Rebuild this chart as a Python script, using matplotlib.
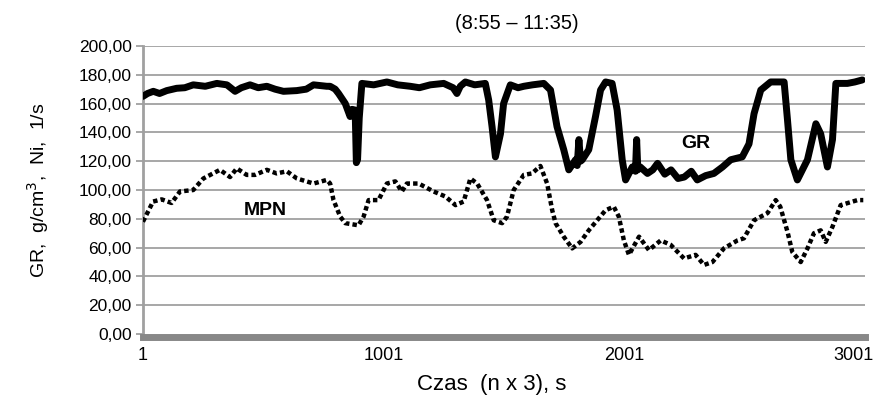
import matplotlib
matplotlib.use("Agg")
import matplotlib.pyplot as plt
from matplotlib.ticker import FuncFormatter

plt.rcParams['font.family'] = ['Liberation Sans', 'DejaVu Sans']

# GR curve (sample index, value)
gr_x = [1, 20, 44, 70, 100, 141, 175, 210, 260, 308, 350, 384, 410, 446, 480, 516,
        550, 585, 640, 680, 710, 765, 779, 800, 814, 842, 862, 870, 883, 888, 893,
        900, 911, 960, 1015, 1060, 1112, 1150, 1195, 1251, 1290, 1306, 1320, 1341,
        1380, 1424, 1438, 1452, 1466, 1487, 1500, 1528, 1560, 1584, 1620, 1667,
        1695, 1722, 1750, 1771, 1799, 1806, 1813, 1820, 1827, 1854, 1882, 1903,
        1924, 1951, 1972, 1993, 2007, 2035, 2048, 2053, 2058, 2068, 2098, 2120,
        2140, 2170, 2196, 2225, 2251, 2280, 2305, 2340, 2374, 2410, 2444, 2492,
        2520, 2541, 2569, 2610, 2666, 2680, 2694, 2721, 2763, 2798, 2818, 2846,
        2867, 2881, 2929, 2960, 2991]
gr_y = [165, 167, 168.5, 167, 169, 170.6, 171, 173, 172, 174, 173, 168.5, 171, 173,
        171, 172, 170, 168.5, 169, 170, 173, 172, 172, 170, 167, 160, 151, 156,
        155.5, 119, 121, 150, 174, 173, 175, 173, 172, 171, 173, 174, 171, 167,
        172, 175, 173, 174, 162.5, 144, 123, 139, 160, 173, 171, 172, 173, 174,
        169.4, 144, 128, 114, 121, 117, 135, 120, 121, 128, 151, 169.4, 175, 174,
        155.5, 121, 107, 116, 113, 135, 114, 116, 111.5, 114, 118.5, 111, 114, 108,
        109, 113, 107, 110, 111.5, 116, 121, 123, 132, 153, 169.4, 175, 175, 148.6,
        121, 107, 121, 146, 139, 116, 135, 174, 174, 175, 176.4]

# MPN curve (sample index, value)
mpn_x = [1, 43, 79, 120, 155, 210, 252, 321, 363, 391, 432, 467, 516, 557, 599,
         641, 710, 765, 779, 793, 821, 842, 897, 918, 939, 980, 1015, 1050, 1077,
         1098, 1147, 1209, 1258, 1300, 1334, 1362, 1390, 1431, 1459, 1494, 1514,
         1542, 1584, 1618, 1653, 1681, 1702, 1716, 1750, 1785, 1820, 1854, 1889,
         1924, 1958, 1979, 2000, 2021, 2063, 2104, 2153, 2194, 2250, 2298, 2333,
         2368, 2416, 2472, 2499, 2541, 2597, 2631, 2650, 2680, 2700, 2735, 2763,
         2790, 2818, 2839, 2867, 2901, 2971, 2995]
mpn_y = [78, 92, 93.5, 91, 99, 100, 108, 114, 109, 115, 110.5, 110.5, 114, 111.5,
         113, 108, 104.5, 107, 104.5, 93, 81.5, 77, 75.5, 81.5, 93, 93, 104.5, 106,
         99, 104.5, 104.5, 99, 95.5, 89.5, 92, 108, 104.5, 93, 79, 77, 81.5, 100,
         110.5, 111.5, 116.7, 104.5, 86, 77, 67.6, 59.5, 64, 72, 79, 86, 88.4, 81.5,
         65, 55, 67.6, 58.3, 65, 62, 52.5, 55, 48, 50, 59.5, 65, 66.5, 79, 84, 93,
         88.4, 71, 57, 50, 59.5, 70, 72, 64, 74.5, 89.5, 93, 93]

x_ticks = [1, 1001, 2001, 3001]
x_labels = ["1", "1001", "2001", "3001"]
y_ticks = [0, 20, 40, 60, 80, 100, 120, 140, 160, 180, 200]

fig = plt.figure(figsize=(8.77, 4.03), dpi=100)
ax = fig.add_axes([0.163, 0.171, 0.823, 0.715])

grid_c = "#a0a0a0"
for yv in y_ticks[1:]:
    ax.axhline(yv, color=grid_c, lw=1.3, zorder=0)

ax.plot(gr_x, gr_y, color="black", lw=5, solid_joinstyle="round",
        solid_capstyle="round", zorder=3)
ax.plot(mpn_x, mpn_y, color="black", lw=3.2, linestyle=(0, (1.0, 0.7)), zorder=3)

ax.text(2298, 132.5, "GR", fontsize=14, fontweight="bold", ha="center", va="center")
ax.text(509, 86, "MPN", fontsize=14, fontweight="bold", ha="center", va="center")

ax.set_xlim(1, 3001)
ax.set_ylim(0, 200)
ax.set_yticks(y_ticks)
ax.yaxis.set_major_formatter(FuncFormatter(lambda v, p: f"{v:.2f}".replace(".", ",")))
ax.tick_params(axis="y", length=5, width=1.3, color=grid_c, labelsize=12.5, pad=3)

# x tick labels drawn by hand so the last one stays inside the figure
ax.set_xticks([])
for xv, lab in zip(x_ticks, x_labels):
    dx = -8 if lab == "3001" else 0
    ax.annotate(lab, xy=(xv, 0), xycoords=("data", "axes fraction"),
                xytext=(dx, -9), textcoords="offset points",
                ha="center", va="top", fontsize=13)

for s in ["top", "right"]:
    ax.spines[s].set_visible(False)
ax.spines["left"].set_color(grid_c)
ax.spines["left"].set_linewidth(2)
ax.spines["bottom"].set_color("#888888")
ax.spines["bottom"].set_linewidth(5)
ax.spines["bottom"].set_position(("outward", 2))

ax.set_title("(8:55 \u2013 11:35)", fontsize=14.5, pad=12, x=0.518)
ax.set_xlabel("Czas  (n x 3), s", fontsize=16, labelpad=27, x=0.483)
ax.set_ylabel("GR,  g/cm$^3$,  Ni,  1/s", fontsize=14, labelpad=20)

fig.savefig("out.png", dpi=100)
